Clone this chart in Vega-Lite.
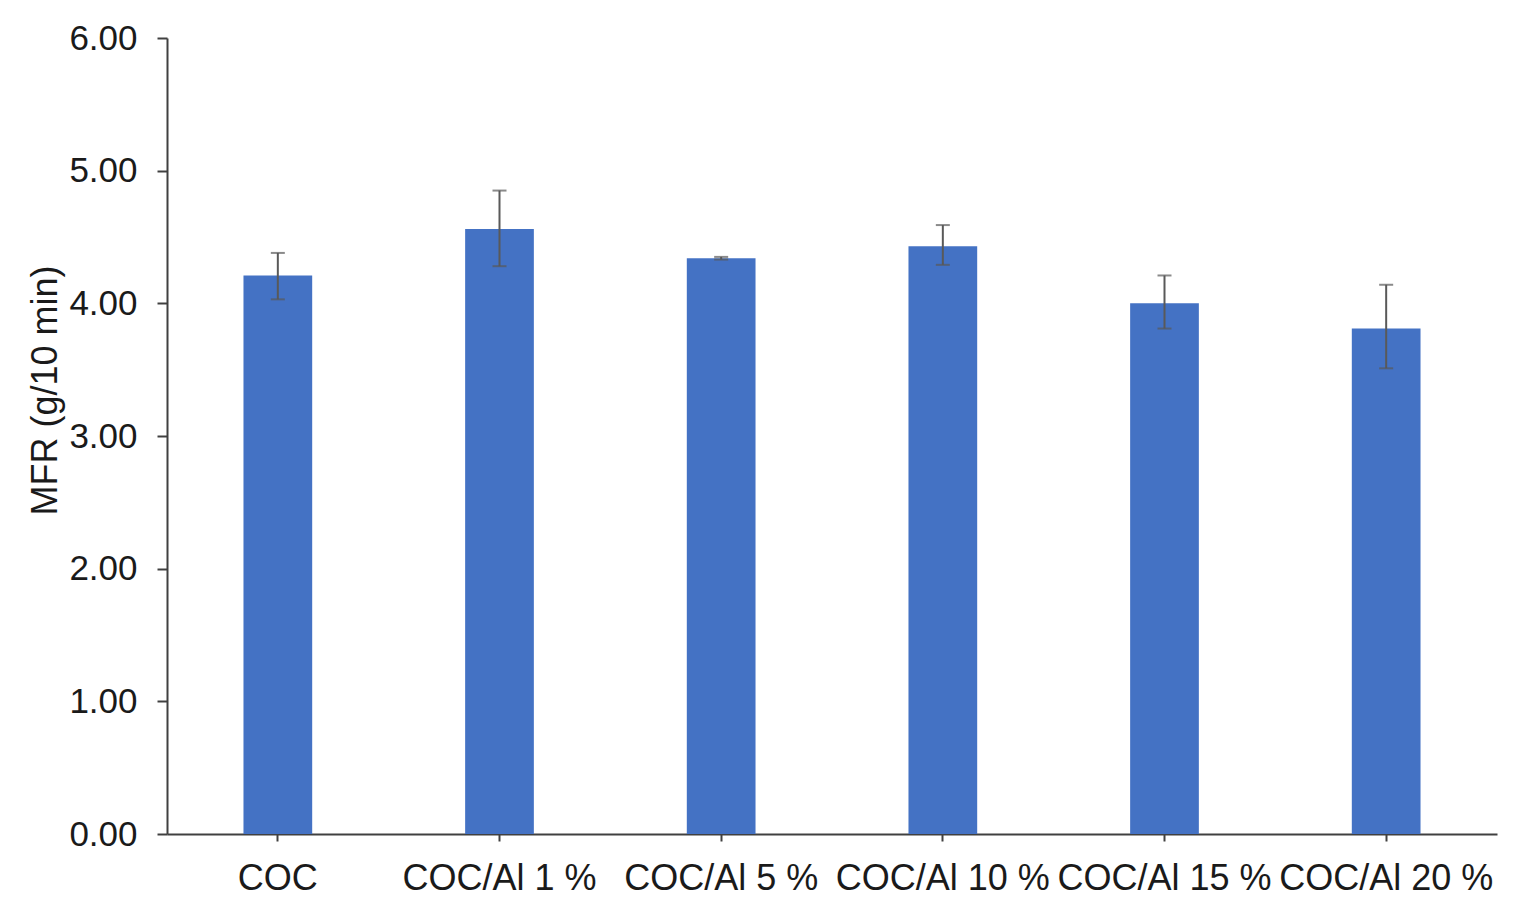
{
  "$schema": "https://vega.github.io/schema/vega-lite/v6.json",
  "autosize": "none",
  "width": 1330,
  "height": 796,
  "padding": {"left": 167, "top": 38, "right": 26, "bottom": 86},
  "background": "white",
  "config": {
    "view": {"stroke": null},
    "font": "Liberation Sans",
    "axis": {"grid": false, "domainColor": "#404040", "tickColor": "#404040", "domainWidth": 2, "tickWidth": 2, "labelColor": "#1a1a1a", "titleColor": "#1a1a1a", "labelFont": "Liberation Sans", "titleFont": "Liberation Sans", "titleFontWeight": "normal"}
  },
  "data": {
    "values": [
      {"cat": "COC", "v": 4.21, "lo": 4.03, "hi": 4.38},
      {"cat": "COC/Al 1 %", "v": 4.56, "lo": 4.28, "hi": 4.85},
      {"cat": "COC/Al 5 %", "v": 4.34, "lo": 4.33, "hi": 4.35},
      {"cat": "COC/Al 10 %", "v": 4.43, "lo": 4.29, "hi": 4.59},
      {"cat": "COC/Al 15 %", "v": 4.0, "lo": 3.81, "hi": 4.21},
      {"cat": "COC/Al 20 %", "v": 3.81, "lo": 3.51, "hi": 4.14}
    ]
  },
  "encoding": {
    "x": {
      "field": "cat", "type": "nominal", "sort": null,
      "scale": {"paddingInner": 0.69, "paddingOuter": 0.345},
      "axis": {"title": null, "labelAngle": 0, "labelFontSize": 36, "labelPadding": 20, "tickSize": 7, "labelOverlap": false, "labelBound": false, "labelLimit": 0}
    }
  },
  "layer": [
    {
      "mark": {"type": "bar", "color": "#4472C4"},
      "encoding": {
        "y": {
          "field": "v", "type": "quantitative",
          "scale": {"domain": [0, 6], "nice": false},
          "axis": {"title": "MFR (g/10 min)", "values": [0, 1, 2, 3, 4, 5, 6], "format": ".2f", "labelFontSize": 35, "labelPadding": 20, "tickSize": 10, "titleFontSize": 36, "titleX": -122, "titleY": 352, "titleAngle": -90, "titleAlign": "center", "titleBaseline": "middle"}
        }
      }
    },
    {
      "mark": {"type": "rule", "color": "#595959", "strokeWidth": 2},
      "encoding": {
        "y": {"field": "lo", "type": "quantitative"},
        "y2": {"field": "hi"}
      }
    },
    {
      "mark": {"type": "tick", "color": "#595959", "thickness": 2, "size": 14},
      "encoding": {"y": {"field": "hi", "type": "quantitative"}}
    },
    {
      "mark": {"type": "tick", "color": "#595959", "thickness": 2, "size": 14},
      "encoding": {"y": {"field": "lo", "type": "quantitative"}}
    }
  ]
}
